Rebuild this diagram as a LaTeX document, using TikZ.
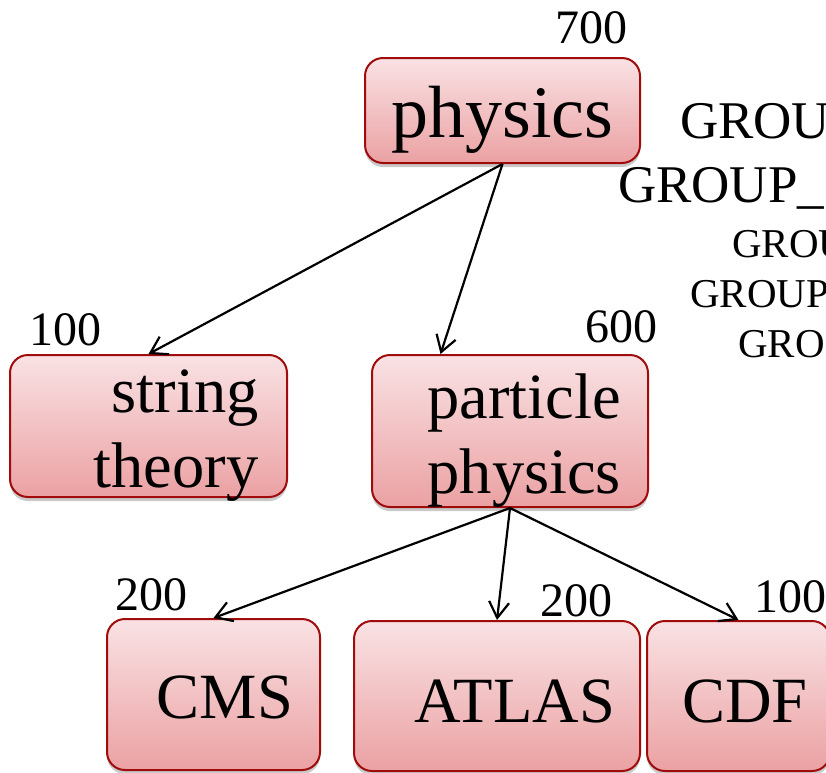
\documentclass[tikz,border=0pt]{standalone}
\usepackage{fontspec}
\setmainfont{Liberation Serif}
\usetikzlibrary{arrows.meta, shadows, calc}
\definecolor{boxedge}{HTML}{A00C0C}
\definecolor{boxtop}{HTML}{F9E2E4}
\definecolor{boxbot}{HTML}{EBA1A3}

\begin{document}
\begin{tikzpicture}[x=1pt, y=-1pt, line width=2.2pt,
    catbox/.style={draw=boxedge, line width=2pt, rounded corners=18pt,
      top color=boxtop, bottom color=boxbot, inner sep=0pt,
      font=\fontsize{64.5}{75}\selectfont,
      drop shadow={shadow xshift=0pt, shadow yshift=-4pt, opacity=0.3, fill=black!70}},
    count/.style={anchor=base west, inner sep=0pt, font=\fontsize{48}{56}\selectfont},
    grp/.style={anchor=base west, inner sep=0pt, font=\fontsize{41}{50}\selectfont},
    link/.style={-{Straight Barb[length=16pt,width=20pt]}, line width=2.2pt}]
  \useasboundingbox (0,0) rectangle (826,772);
  \clip (0,0) rectangle (826,772);

  \node[catbox, minimum width=275pt, minimum height=105pt, text height=54pt, text depth=0pt,
    font=\fontsize{74}{88}\selectfont] (physics) at (502.5,110.5) {physics};
  \node[catbox, minimum width=277pt, minimum height=142pt, text width=220pt, align=right,
    text height=42pt, text depth=70pt] (string) at (148.5,426) {string\\theory};
  \node[catbox, minimum width=276pt, minimum height=152pt, text width=222pt, align=right,
    text height=42pt, text depth=68pt] (particle) at (510,431) {particle\\physics};
  \node[catbox, minimum width=213pt, minimum height=151pt, text width=159pt, align=right,
    text height=47pt, text depth=0pt] (cms) at (213.5,694.5) {CMS};
  \node[catbox, minimum width=286pt, minimum height=150pt, text width=236pt, align=right,
    text height=52pt, text depth=0pt] (atlas) at (497,696) {ATLAS};
  \node[catbox, minimum width=183pt, minimum height=150pt, text width=138pt, align=right,
    text height=52pt, text depth=0pt] (cdf) at (738.5,696) {CDF};

  \node[count] (n-physics) at (554,43) {700};
  \node[count] (n-string) at (28,345) {100};
  \node[count] (n-particle) at (584,342) {600};
  \node[count] (n-cms) at (114,610) {200};
  \node[count] (n-atlas) at (539,616) {200};
  \node[count] (n-cdf) at (753,612) {100};

  \node[grp, font=\fontsize{53}{64}\selectfont] (grp-a) at (679,138) {GROU};
  \node[grp, font=\fontsize{53}{64}\selectfont] (grp-b) at (617,202) {GROUP\_};
  \node[grp] (grp-c) at (731,257) {GROU};
  \node[grp] (grp-d) at (689,307) {GROUP};
  \node[grp] (grp-e) at (737,357) {GRO};

  \draw[link] (physics.south) -- (string.north);
  \draw[link] (physics.south) -- ($(particle.north west)!0.25!(particle.north east)$);
  \draw[link] (particle.south) -- (cms.north);
  \draw[link] (particle.south) -- (atlas.north);
  \draw[link] (particle.south) -- (cdf.north);
\end{tikzpicture}
\end{document}
